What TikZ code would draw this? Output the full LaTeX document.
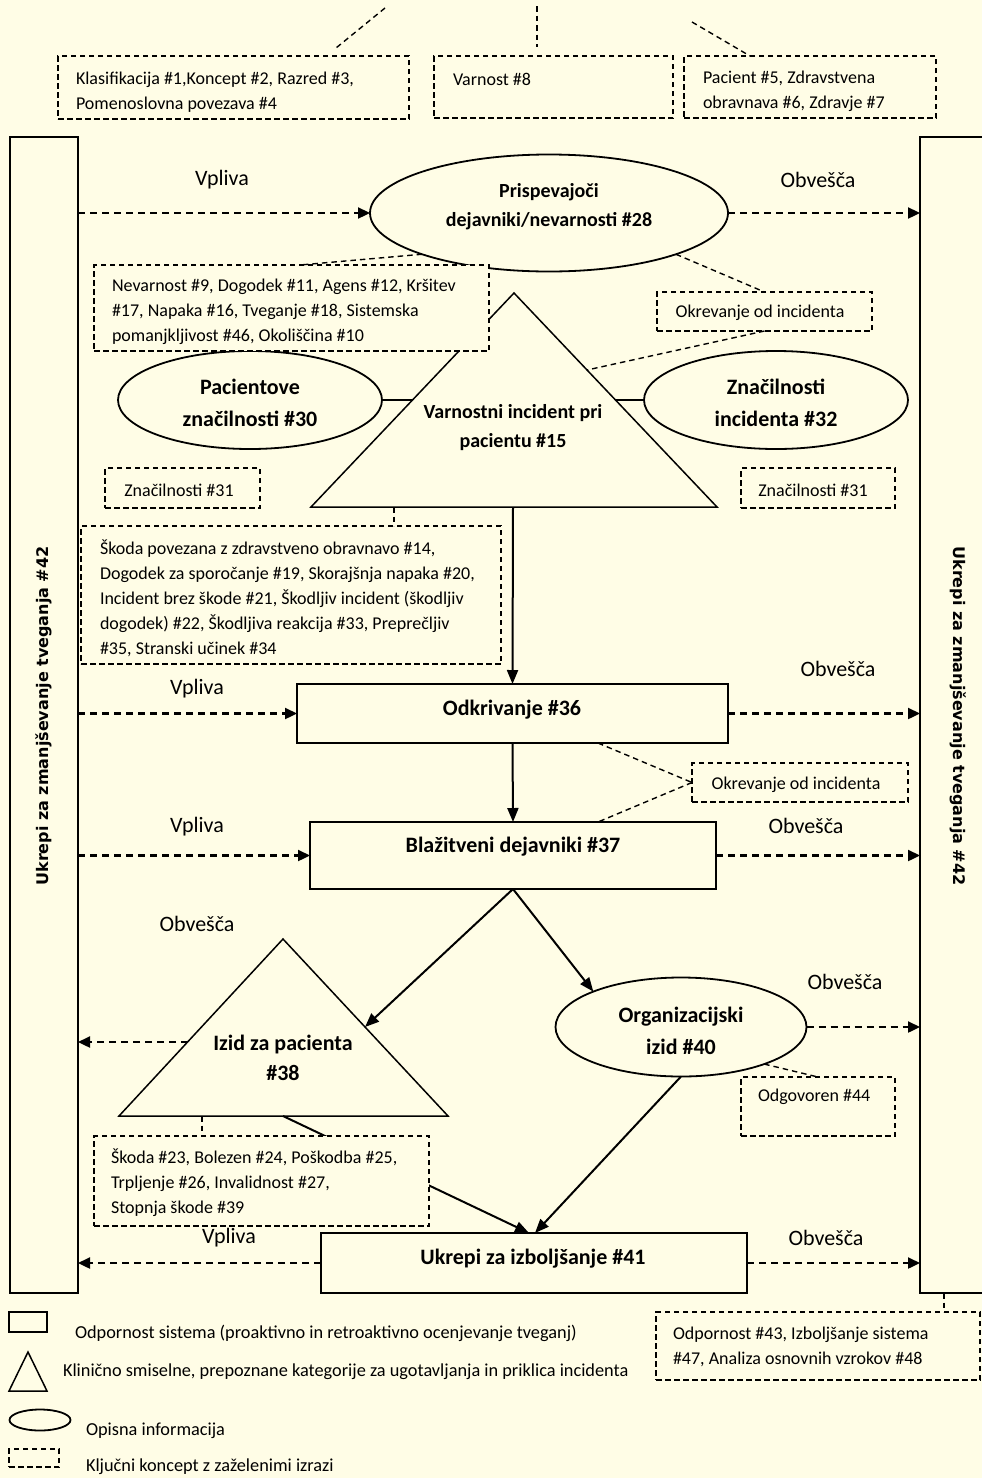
\documentclass[tikz,border=0pt]{standalone}
\usepackage{fontspec}
\setmainfont{Carlito}
\newfontfamily\sidefont{DejaVu Sans}
\usetikzlibrary{arrows.meta,shapes.geometric,calc}
\definecolor{bgc}{HTML}{FFFDE6}
\tikzset{
 every node/.style={font=\fontsize{18}{25}\selectfont, inner sep=0pt, outer sep=0pt},
 txt/.style={align=left, anchor=west},
 lgtxt/.style={align=left, anchor=west, font=\fontsize{18.3}{25}\selectfont},
 dbox/.style={draw, line width=1.8pt, dash pattern=on 5.5pt off 3.5pt, fill=bgc},
 sbox/.style={draw, line width=2pt, fill=bgc},
 ell/.style={draw, ellipse, line width=1.8pt, fill=bgc},
 tri/.style={draw, line width=1.5pt, fill=bgc, line join=miter},
 btxt/.style={font=\fontsize{22}{32}\selectfont\bfseries, align=center},
 mtxt/.style={font=\fontsize{20}{29}\selectfont\bfseries, align=center},
 lbl/.style={font=\fontsize{22}{26}\selectfont},
 side/.style={font=\fontsize{16}{20}\sidefont\bfseries},
 darr/.style={line width=2.3pt, dash pattern=on 7pt off 5pt, -{Triangle[length=12pt,width=11pt]}},
 sarr/.style={line width=2pt, -{Triangle[length=14pt,width=11pt]}},
 dcon/.style={line width=1.4pt, dash pattern=on 5.5pt off 4pt},
 scon/.style={line width=1.7pt},
}
\begin{document}
\begin{tikzpicture}[x=1pt,y=-1pt]
\useasboundingbox (0,0) rectangle (982,1478);
\clip (0,0) rectangle (982,1478);
\fill[bgc] (0,0) rectangle (982,1478);

% side columns
\node[sbox, minimum width=68, minimum height=1156] (L) at (44,715) {};
\node[side, rotate=90] (Lt) at (44,716) {Ukrepi za zmanjševanje tveganja \#42};
\node[sbox, minimum width=80, minimum height=1156] (R) at (960,715) {};
\node[side, rotate=-90] (Rt) at (958,716) {Ukrepi za zmanjševanje tveganja \#42};

% top boxes
\node[dbox, minimum width=351, minimum height=63] (b1) at (233.5,87.5) {};
\node[txt] (b1t) at (76,92) {Klasifikacija \#1,Koncept \#2, Razred \#3,\\Pomenoslovna povezava \#4};
\node[dbox, minimum width=239, minimum height=62] (b2) at (553.5,87) {};
\node[txt] (b2t) at (453,79) {Varnost \#8};
\node[dbox, minimum width=252, minimum height=62] (b3) at (810,87) {};
\node[txt] (b3t) at (703,91) {Pacient \#5, Zdravstvena\\obravnava \#6, Zdravje \#7};
\coordinate (u1) at (385,8);
\coordinate (u1e) at (336,48);
\coordinate (u2) at (537,6);
\coordinate (u2e) at (537,47);
\coordinate (u3) at (692,22);
\draw[dcon] (u1) -- (u1e);
\draw[dcon] (u2) -- (u2e);
\draw[dcon] (u3) -- ($(b3.north west)+(66,0)$);

% contributing factors
\node[ell, minimum width=358, minimum height=117] (e28) at (549,213) {};
\node[mtxt] (e28t) at (549,207) {Prispevajoči\\dejavniki/nevarnosti \#28};
\draw[darr] (L.east |- e28.west) -- (e28.west);
\draw[darr] (e28.east) -- (R.west |- e28.east);
\node[lbl] (v1) at (222,180) {Vpliva};
\node[lbl] (o1) at (818,180) {Obvešča};

% incident triangle
\coordinate (t15a) at (514,293);
\coordinate (t15l) at (311,507);
\coordinate (t15r) at (717,507);
\draw[tri] (t15a) -- (t15l) -- (t15r) -- cycle;
\node[mtxt] (t15t) at (513,428) {Varnostni incident pri\\pacientu \#15};
\coordinate (t15L) at (412.5,400);
\coordinate (t15R) at (615.5,400);
\coordinate (t15s) at (587,370);
\coordinate (t15b) at (513,507);
\coordinate (t15b1) at (394,507);

\node[ell, minimum width=264, minimum height=98] (e30) at (250,400) {};
\node[btxt] (e30t) at (250,403) {Pacientove\\značilnosti \#30};
\node[ell, minimum width=264, minimum height=98] (e32) at (776,400) {};
\node[btxt] (e32t) at (776,403) {Značilnosti\\incidenta \#32};
\draw[scon] (e30.east) -- (t15L);
\draw[scon] (e32.west) -- (t15R);

\node[dbox, minimum width=395, minimum height=86] (b4) at (291.5,308) {};
\node[txt] (b4t) at (112,311.5) {Nevarnost \#9, Dogodek \#11, Agens \#12, Kršitev\\\#17, Napaka \#16, Tveganje \#18, Sistemska\\pomanjkljivost \#46, Okoliščina \#10};
\draw[dcon] (e28.198) -- ($(b4.north west)+(206,0)$);

\node[dbox, minimum width=215, minimum height=39] (b5) at (764.5,311.5) {};
\node (b5t) at (760,313) {Okrevanje od incidenta};
\draw[dcon] (e28.342) -- (b5.north);
\draw[dcon] (b5.south) -- (t15s);

\node[dbox, minimum width=155, minimum height=40] (b6) at (182.5,488) {};
\node (b6t) at (179,490) {Značilnosti \#31};
\node[dbox, minimum width=154, minimum height=40] (b7) at (818,488) {};
\node (b7t) at (813,490) {Značilnosti \#31};

\node[dbox, minimum width=420, minimum height=138] (b8) at (291,595) {};
\node[txt] (b8t) at (100,598) {Škoda povezana z zdravstveno obravnavo \#14,\\Dogodek za sporočanje \#19, Skorajšnja napaka \#20,\\Incident brez škode \#21, Škodljiv incident (škodljiv\\dogodek) \#22, Škodljiva reakcija \#33, Preprečljiv\\\#35, Stranski učinek \#34};
\draw[dcon] (t15b1) -- (b8.north -| t15b1);

% detection
\node[sbox, minimum width=431, minimum height=59] (odk) at (512.5,713.5) {};
\node[btxt] (odkt) at (512,710) {Odkrivanje \#36};
\draw[sarr] (t15b) -- (odk.north);
\draw[darr] (L.east |- odk.west) -- (odk.west);
\draw[darr] (odk.east) -- (R.west |- odk.east);
\node[lbl] (v2) at (197,689) {Vpliva};
\node[lbl] (o2) at (838,669) {Obvešča};

% mitigating
\node[sbox, minimum width=406, minimum height=67] (blz) at (513,855.5) {};
\node[btxt] (blzt) at (513,847) {Blažitveni dejavniki \#37};
\draw[sarr] (odk.south) -- (blz.north);
\draw[darr] (L.east |- blz.west) -- (blz.west);
\draw[darr] (blz.east) -- (R.west |- blz.east);
\node[lbl] (v3) at (197,827) {Vpliva};
\node[lbl] (o3) at (806,826) {Obvešča};

\node[dbox, minimum width=216, minimum height=39] (b9) at (800,782.5) {};
\node (b9t) at (796,785) {Okrevanje od incidenta};
\draw[dcon] ($(odk.south west)+(301,0)$) -- (b9.west);
\draw[dcon] (b9.west) -- ($(blz.north west)+(288,0)$);

% outcomes
\coordinate (t38a) at (283,939);
\coordinate (t38l) at (119,1116);
\coordinate (t38r) at (448,1116);
\draw[tri] (t38a) -- (t38l) -- (t38r) -- cycle;
\node[btxt, font=\fontsize{22}{30}\selectfont\bfseries] (t38t) at (283,1058) {Izid za pacienta\\\#38};
\coordinate (t38R) at (365,1027);
\coordinate (t38L) at (188,1042);
\coordinate (t38b) at (283,1116);
\coordinate (t38b1) at (202,1116);
\node[lbl] (o4) at (197,924) {Obvešča};
\draw[darr] (t38L) -- (L.east |- t38L);

\node[ell, minimum width=251, minimum height=99] (e40) at (681,1027) {};
\node[btxt] (e40t) at (681,1031) {Organizacijski\\izid \#40};
\draw[darr] (e40.east) -- (R.west |- e40.east);
\node[lbl] (o5) at (845,982) {Obvešča};

\draw[sarr] (blz.south) -- (t38R);
\draw[sarr] (blz.south) -- (e40.158);

\node[dbox, minimum width=154, minimum height=59] (b10) at (818,1106.5) {};
\node[txt] (b10t) at (758,1097) {Odgovoren \#44};
\draw[dcon] (e40.336) -- (b10.north);

% improvement
\node[sbox, minimum width=426, minimum height=60] (ukr) at (534,1263) {};
\node[btxt] (ukrt) at (533,1259) {Ukrepi za izboljšanje \#41};
\draw[sarr] (t38b) -- ($(ukr.north west)+(208,0)$);
\draw[sarr] (e40.south) -- ($(ukr.north west)+(214,0)$);
\draw[darr] (ukr.west) -- (L.east |- ukr.west);
\draw[darr] (ukr.east) -- (R.west |- ukr.east);
\node[lbl] (v5) at (229,1238) {Vpliva};
\node[lbl] (o6) at (826,1238) {Obvešča};

\node[dbox, minimum width=335, minimum height=90] (b11) at (261.5,1181) {};
\node[txt] (b11t) at (111,1183) {Škoda \#23, Bolezen \#24, Poškodba \#25,\\Trpljenje \#26, Invalidnost \#27,\\Stopnja škode \#39};
\draw[dcon] (t38b1) -- (b11.north -| t38b1);

\node[dbox, minimum width=324, minimum height=68] (b12) at (818,1346) {};
\node[txt] (b12t) at (673,1346.5) {Odpornost \#43, Izboljšanje sistema\\\#47, Analiza osnovnih vzrokov \#48};
\draw[dcon] ($(R.south west)+(24,0)$) -- ($(b12.north west)+(288,0)$);

% legend
\node[sbox, minimum width=38, minimum height=20] (lg1) at (28,1322) {};
\node[lgtxt] (lg1t) at (75,1333) {Odpornost sistema (proaktivno in retroaktivno ocenjevanje tveganj)};
\coordinate (lg2a) at (28,1352);
\coordinate (lg2l) at (9,1391);
\coordinate (lg2r) at (47,1391);
\draw[tri] (lg2a) -- (lg2l) -- (lg2r) -- cycle;
\node[lgtxt] (lg2t) at (63,1372) {Klinično smiselne, prepoznane kategorije za ugotavljanja in priklica incidenta};
\node[ell, minimum width=61, minimum height=21] (lg3) at (40,1420) {};
\node[lgtxt] (lg3t) at (86,1431) {Opisna informacija};
\node[dbox, minimum width=50, minimum height=18] (lg4) at (34,1458) {};
\node[lgtxt] (lg4t) at (86,1467) {Ključni koncept z zaželenimi izrazi};
\end{tikzpicture}
\end{document}
